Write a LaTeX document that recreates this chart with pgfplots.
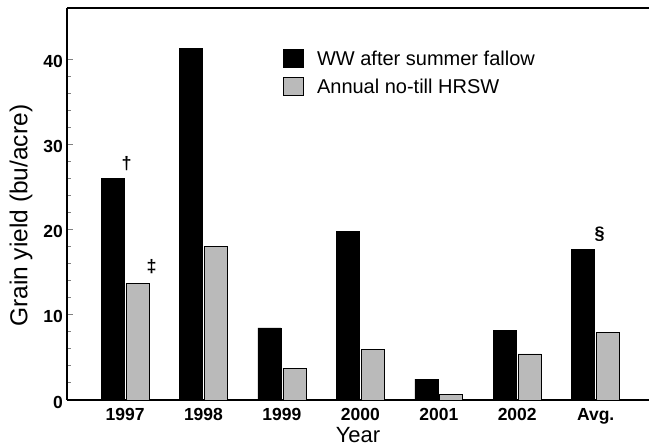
\documentclass[border=0pt]{standalone}
\usepackage{fontspec}
\setmainfont{Liberation Sans}
\usepackage{pgfplots}
\pgfplotsset{compat=1.18}
\begin{document}
\begin{tikzpicture}
\begin{axis}[
  name=ax,
  scale only axis,
  width=582pt, height=392pt,
  xmin=-0.74, xmax=6.68,
  ymin=0, ymax=46,
  ybar=2pt, bar width=23pt,
  axis x line*=bottom, axis y line*=left,
  axis line style={line width=1.2pt},
  xtick={0,1,2,3,4,5,6},
  xticklabels={1997,1998,1999,2000,2001,2002,Avg.},
  x tick style={draw=none},
  ytick={0,10,20,30,40},
  minor y tick num=4,
  tick align=inside,
  major tick length=6pt, minor tick length=4pt,
  y tick style={line width=1pt},
  /pgf/number format/assume math mode=true,
  ticklabel style={font=\bfseries\fontsize{17.5}{17.5}\selectfont},
  xticklabel style={anchor=base, inner sep=0pt, yshift=-20pt},
  yticklabel style={anchor=east, inner sep=0pt, xshift=-4pt, yshift=-2pt},
  xlabel={Year},
  ylabel={Grain yield (bu/acre)},
  xlabel style={font=\fontsize{22}{22}\selectfont, at={(rel axis cs:0.5,0)}, anchor=center, yshift=-35pt},
  ylabel style={font=\fontsize{24.5}{24.5}\selectfont, at={(rel axis cs:0,0.47)}, anchor=center, yshift=46pt},
  legend style={at={(rel axis cs:0.371,0.897)}, anchor=north west, draw=none, fill=none,
    font=\fontsize{20}{20}\selectfont, row sep=8pt, inner sep=0pt},
  legend cell align=left,
  legend image code/.code={\draw[#1] (0pt,-9pt) rectangle (20pt,9pt);},
  clip=false,
]
\addplot[fill=black, draw=black] coordinates {(0,26.0) (1,41.3) (2,8.45) (3,19.8) (4,2.45) (5,8.2) (6,17.7)};
\addplot[fill=black!27, draw=black, line width=0.8pt] coordinates {(0,13.7) (1,18.05) (2,3.75) (3,5.95) (4,0.7) (5,5.4) (6,7.95)};
\legend{\ \ WW after summer fallow, \ \ Annual no-till HRSW}
\draw[line width=1.2pt] (rel axis cs:0,1) -- (rel axis cs:1,1);
\node[font=\bfseries\fontsize{18}{18}\selectfont] at (axis cs:0.02,27.8) {†};
\node[font=\bfseries\fontsize{18}{18}\selectfont] at (axis cs:0.34,15.6) {‡};
\node[font=\bfseries\fontsize{18}{18}\selectfont] at (axis cs:6.05,19.4) {§};
\coordinate (bl) at (rel axis cs:0,0);
\coordinate (tr) at (rel axis cs:1,1);
\end{axis}
\pgfresetboundingbox
\path ([xshift=-67pt,yshift=-46pt]bl) rectangle ([yshift=8pt]tr);
\end{tikzpicture}
\end{document}
